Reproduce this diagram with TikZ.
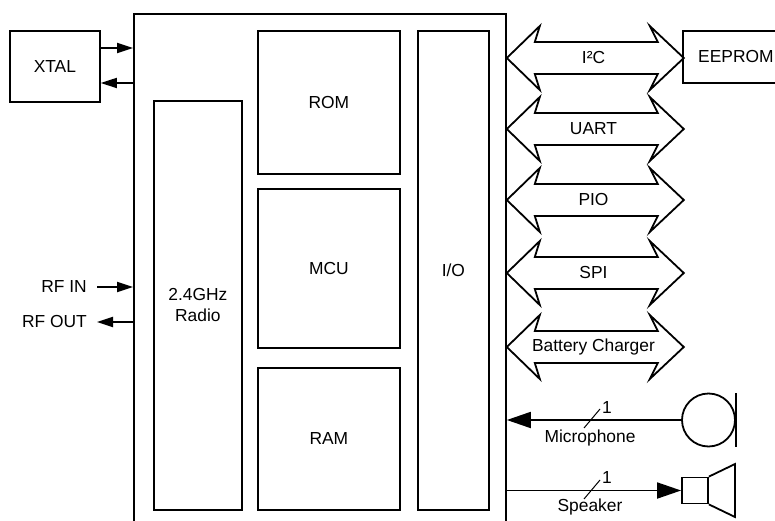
\documentclass[tikz,border=0pt]{standalone}
\usepackage{fontspec}
\setmainfont{Liberation Sans}
\usepackage{tikz}
\usetikzlibrary{positioning,arrows.meta}

\begin{document}
\begin{tikzpicture}[
			x=1pt, y=-1pt,
			font=\fontsize{17.4}{21}\selectfont,
			blockbox/.style={draw=black, line width=1.8pt, inner sep=0pt, anchor=north west, align=center},
			bus/.style={draw=black, line width=1.8pt, fill=white, line join=miter},
			sig/.style={line width=1.8pt, -{Triangle[length=16pt,width=10pt]}},
			bigsig/.style={line width=1.8pt, -{Triangle[length=24pt,width=16pt]}},
			tick/.style={line width=1pt},
		]

			\fill[white] (0,0) rectangle (775,521);
			\useasboundingbox (0,0) rectangle (775,521);

			%Nodes
			\node[blockbox, minimum width=372pt, minimum height=530pt]	(chip)	at (133,13)	{};
			\node[blockbox, minimum width=88pt, minimum height=409pt]	(radio)	at (153,100)	{2.4GHz\\Radio};
			\node[blockbox, minimum width=142pt, minimum height=143pt]	(rom)	at (257,30)	{ROM};
			\node[blockbox, minimum width=142pt, minimum height=159pt]	(mcu)	at (257,188)	{MCU};
			\node[blockbox, minimum width=142pt, minimum height=142pt]	(ram)	at (257,367)	{RAM};
			\node[blockbox, minimum width=71pt, minimum height=479pt]	(io)	at (417,30)	{I/O};
			\node[blockbox, minimum width=90pt, minimum height=71pt]	(xtal)	at (9,30)	{XTAL};
			\node[blockbox, minimum width=106pt, minimum height=52pt]	(eeprom)	at (682,30)	{EEPROM};
			\node[anchor=east, inner xsep=10pt]	(rfin)	at (97,287)	{RF IN};
			\node[anchor=east, inner xsep=10pt]	(rfout)	at (97,322)	{RF OUT};
			\node[circle, draw=black, line width=1.8pt, minimum size=53pt, inner sep=0pt]	(mic)	at (708.5,420)	{};
			\node[draw=black, line width=1.8pt, minimum size=26pt, inner sep=0pt]	(spk)	at (695,490.5)	{};
			\node	(miclabel)	at (590,438)	{Microphone};
			\node	(spklabel)	at (590,507)	{Speaker};
			\node	(micwidth)	at (607,408)	{1};
			\node	(spkwidth)	at (607,478)	{1};

			%Buses
			\foreach \y/\busname in {58/I²C, 129/UART, 200/PIO, 273/SPI, 347/Battery Charger} {
				\draw[bus] (chip.east |- 0,\y) -- ++(33,-32) -- ++(-5,16) -- ++(123,0) -- ++(-8,-16) -- ++(34,32)
					-- ++(-34,32) -- ++(8,-16) -- ++(-123,0) -- ++(5,16) -- cycle;
				\node at (593.5,\y) {\busname};
			}

			%Lines
			\draw[sig]	(xtal.east |- 0,48) -- (chip.west |- 0,48);
			\draw[sig]	(chip.west |- 0,83) -- (xtal.east |- 0,83);
			\draw[sig]	(rfin.east) -- (rfin.east -| chip.west);
			\draw[sig]	(rfout.east -| chip.west) -- (rfout.east);
			\draw[bigsig]	(mic.west) -- (mic.west -| chip.east);
			\draw[bigsig]	(chip.east |- spk.west) -- (spk.west);
			\draw[line width=1.8pt]	(mic.east) ++(0,-27) -- ++(0,54);
			\draw[line width=1.8pt, line join=miter]	(spk.north east) -- (735,464) -- (735,517) -- (spk.south east);
			\draw[tick]	(592,420) ++(-8,8) -- ++(16,-19);
			\draw[tick]	(592,491) ++(-8,8) -- ++(16,-19);

		\end{tikzpicture}
\end{document}
